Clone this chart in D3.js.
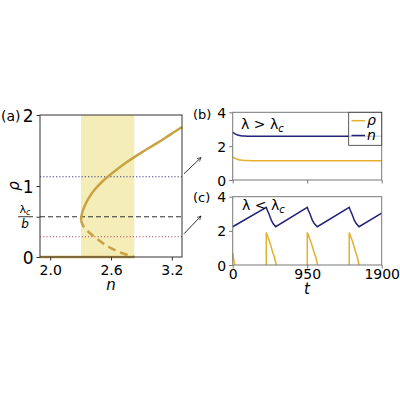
<!DOCTYPE html>
<meta charset="utf-8">
<head>
<style>
  body { margin: 0; background: #fff; }
  text { font-family: "DejaVu Sans", sans-serif; fill: #000; }
  .ax path, .ax line { stroke: #333; }
  .axg path, .axg line { stroke: #777; }
</style>
</head>
<body>
<svg width="400" height="400"></svg>
<script src="https://d3js.org/d3.v7.min.js"></script>
<script>
// panel (a): bifurcation diagram, rho vs n
var upperN = [2.304, 2.315, 2.34, 2.38, 2.44, 2.52, 2.62, 2.75, 2.90, 3.05, 3.18, 3.30];
var upperR = [0.52, 0.62, 0.72, 0.83, 0.95, 1.07, 1.19, 1.33, 1.47, 1.60, 1.72, 1.83];
var lowerN = [2.304, 2.33, 2.43, 2.574, 2.70, 2.83];
var lowerR = [0.52, 0.43, 0.29, 0.145, 0.06, 0.0];
var zeroN = [1.9, 2.83];
var shadeN = [2.304, 2.83];
var levelHigh = 1.13, levelCrit = 0.567, levelLow = 0.285;
var aTicksX = [2.0, 2.6, 3.2], aTickLabX = ["2.0", "2.6", "3.2"];
var aTicksY = [0, 1, 2];

// panel (b): lambda > lambda_c
var bT = [0, 25, 50, 75, 100, 150, 200, 250, 300, 1900];
var bN = [2.82, 2.74, 2.68, 2.64, 2.62, 2.595, 2.585, 2.58, 2.58, 2.58];
var bR = [1.36, 1.29, 1.24, 1.20, 1.18, 1.155, 1.145, 1.14, 1.14, 1.14];

// panel (c): lambda < lambda_c, relaxation oscillations
var cT = [0, 428, 440, 459, 475, 492, 515, 548, 951, 963, 982, 998, 1015, 1040, 1079,
          1486, 1498, 1517, 1533, 1550, 1575, 1611, 1900];
var cN = [2.24, 3.38, 3.22, 3.03, 2.84, 2.63, 2.43, 2.24, 3.38, 3.22, 3.03, 2.84, 2.63, 2.43, 2.24,
          3.38, 3.22, 3.03, 2.84, 2.63, 2.43, 2.24, 3.04];
var cRhoT = [[0, 25], [428, 428, 470, 512, 532, 555], [951, 951, 995, 1040, 1060, 1084], [1486, 1486, 1528, 1570, 1590, 1611]];
var cRhoV = [[0.68, 0], [0, 1.91, 1.38, 0.72, 0.45, 0], [0, 1.91, 1.38, 0.72, 0.45, 0], [0, 1.91, 1.38, 0.72, 0.45, 0]];
var tTicks = [0, 950, 1900];
var yTicksBC = [0, 2, 4];

var gold = "#c9a243", gold2 = "#e6b02e", navy = "#22227a";

var svg = d3.select("svg");

// ---------- (a)
var xa = d3.scaleLinear().domain([1.9, 3.3]).range([40, 182]);
var ya = d3.scaleLinear().domain([0, 2]).range([257, 115]);

var ga = svg.append("g");
ga.append("rect")
  .attr("x", xa(shadeN[0])).attr("width", xa(shadeN[1]) - xa(shadeN[0]))
  .attr("y", ya(2)).attr("height", ya(0) - ya(2))
  .attr("fill", "#f5edb8");

function hline(g, x, y, v, color, dash) {
  g.append("line")
    .attr("x1", x.range()[0]).attr("x2", x.range()[1])
    .attr("y1", y(v)).attr("y2", y(v))
    .attr("stroke", color).attr("stroke-width", 1.2)
    .attr("stroke-dasharray", dash);
}
hline(ga, xa, ya, levelHigh, "#3b3b92", "1.2,2");
hline(ga, xa, ya, levelLow, "#b8506a", "1.2,2");
hline(ga, xa, ya, levelCrit, "#333", "5,3");

var lineA = d3.line().x(function (d) { return xa(d[0]); }).y(function (d) { return ya(d[1]); }).curve(d3.curveCatmullRom);
ga.append("path").datum(d3.zip(upperN, upperR)).attr("d", lineA)
  .attr("fill", "none").attr("stroke", gold).attr("stroke-width", 2.5);
ga.append("path").datum(d3.zip(lowerN, lowerR)).attr("d", lineA)
  .attr("fill", "none").attr("stroke", gold).attr("stroke-width", 2.5).attr("stroke-dasharray", "8,5");
ga.append("path").datum(d3.zip(zeroN, [0, 0])).attr("d", d3.line().x(function (d) { return xa(d[0]); }).y(function (d) { return ya(d[1]); }))
  .attr("fill", "none").attr("stroke", gold).attr("stroke-width", 2.5);

ga.append("rect").attr("x", 40).attr("y", 115).attr("width", 142).attr("height", 142)
  .attr("fill", "none").attr("stroke", "#333").attr("stroke-width", 1);

ga.append("g").attr("class", "ax").attr("transform", "translate(0,257)")
  .call(d3.axisBottom(xa).tickValues(aTicksX).tickFormat(function (d, i) { return aTickLabX[i]; }).tickSize(3.5).tickSizeOuter(0))
  .call(function (g) { g.select(".domain").remove(); g.selectAll("text").attr("font-size", 14).attr("y", 18).attr("dy", null); });
ga.append("g").attr("class", "ax").attr("transform", "translate(40,0)")
  .call(d3.axisLeft(ya).tickValues(aTicksY.concat([levelCrit])).tickFormat(function (d) { return d === levelCrit ? "" : d; }).tickSize(3.5).tickSizeOuter(0))
  .call(function (g) { g.select(".domain").remove(); g.selectAll("text").attr("font-size", 17).attr("dy", "0.36em"); });

// lambda_c / b label
var fr = svg.append("g").attr("transform", "translate(25," + ya(levelCrit) + ")");
fr.append("text").attr("text-anchor", "middle").attr("y", -4).attr("font-size", 11)
  .html('λ<tspan font-size="8" font-style="italic" dy="2">c</tspan>');
fr.append("line").attr("x1", -7).attr("x2", 8).attr("y1", 0).attr("y2", 0).attr("stroke", "#000").attr("stroke-width", 0.8);
fr.append("text").attr("text-anchor", "middle").attr("y", 11).attr("font-size", 12).attr("font-style", "italic").text("b");

svg.append("text").attr("transform", "translate(19,186) rotate(-90)").attr("text-anchor", "middle")
  .attr("font-size", 15).attr("font-style", "italic").text("ρ");
svg.append("text").attr("x", 111).attr("y", 290).attr("text-anchor", "middle")
  .attr("font-size", 15).attr("font-style", "italic").text("n");
svg.append("text").attr("x", 1).attr("y", 121).attr("font-size", 14).text("(a)");

// ---------- (b) and (c)
var xt = d3.scaleLinear().domain([0, 1900]).range([232.7, 381.7]);
var yb = d3.scaleLinear().domain([0, 4]).range([180, 112.3]);
var yc = d3.scaleLinear().domain([0, 4]).range([265, 196.7]);

function frame(y) {
  var g = svg.append("g");
  g.append("rect").attr("x", xt.range()[0]).attr("y", y.range()[1])
    .attr("width", xt.range()[1] - xt.range()[0]).attr("height", y.range()[0] - y.range()[1])
    .attr("fill", "none").attr("stroke", "#777").attr("stroke-width", 1);
  return g;
}

var lineB = function (y) {
  return d3.line().x(function (d) { return xt(d[0]); }).y(function (d) { return y(d[1]); });
};

var gb = svg.append("g");
gb.append("path").datum(d3.zip(bT, bN)).attr("d", lineB(yb).curve(d3.curveMonotoneX))
  .attr("fill", "none").attr("stroke", navy).attr("stroke-width", 1.5);
gb.append("path").datum(d3.zip(bT, bR)).attr("d", lineB(yb).curve(d3.curveMonotoneX))
  .attr("fill", "none").attr("stroke", gold2).attr("stroke-width", 1.5);
frame(yb);
gb.append("g").attr("class", "axg").attr("transform", "translate(0,180)")
  .call(d3.axisBottom(xt).tickValues(tTicks).tickFormat("").tickSize(3.5).tickSizeOuter(0))
  .call(function (g) { g.select(".domain").remove(); });
gb.append("g").attr("class", "axg").attr("transform", "translate(232.7,0)")
  .call(d3.axisLeft(yb).tickValues(yTicksBC).tickFormat(d3.format("d")).tickSize(3.5).tickSizeOuter(0))
  .call(function (g) { g.select(".domain").remove(); g.selectAll("text").attr("font-size", 14).attr("dy", "0.36em"); });

// legend
var lg = svg.append("g");
lg.append("rect").attr("x", 348.7).attr("y", 112.3).attr("width", 33).attr("height", 33)
  .attr("fill", "#fff").attr("fill-opacity", 0.8).attr("stroke", "#333").attr("stroke-width", 0.8);
lg.append("line").attr("x1", 351.5).attr("x2", 365).attr("y1", 120.7).attr("y2", 120.7).attr("stroke", gold2).attr("stroke-width", 1.5);
lg.append("line").attr("x1", 351.5).attr("x2", 365).attr("y1", 135.5).attr("y2", 135.5).attr("stroke", navy).attr("stroke-width", 1.5);
lg.append("text").attr("x", 367).attr("y", 125).attr("font-size", 14).attr("font-style", "italic").text("ρ");
lg.append("text").attr("x", 367).attr("y", 140).attr("font-size", 14).attr("font-style", "italic").text("n");

svg.append("text").attr("x", 241).attr("y", 129).attr("font-size", 14)
  .html('λ &gt; λ<tspan font-size="10" font-style="italic" dy="3">c</tspan>');
svg.append("text").attr("x", 193).attr("y", 119).attr("font-size", 13).text("(b)");

var gc = svg.append("g");
gc.append("path").datum(d3.zip(cT, cN)).attr("d", lineB(yc))
  .attr("fill", "none").attr("stroke", navy).attr("stroke-width", 1.5);
cRhoT.forEach(function (ts, i) {
  gc.append("path").datum(d3.zip(ts, cRhoV[i])).attr("d", lineB(yc))
    .attr("fill", "none").attr("stroke", gold2).attr("stroke-width", 1.5);
});
frame(yc);
gc.append("g").attr("class", "axg").attr("transform", "translate(0,265)")
  .call(d3.axisBottom(xt).tickValues(tTicks).tickFormat(d3.format("d")).tickSize(3.5).tickSizeOuter(0))
  .call(function (g) { g.select(".domain").remove(); g.selectAll("text").attr("font-size", 14).attr("y", 14).attr("dy", null); });
gc.append("g").attr("class", "axg").attr("transform", "translate(232.7,0)")
  .call(d3.axisLeft(yc).tickValues(yTicksBC).tickFormat(d3.format("d")).tickSize(3.5).tickSizeOuter(0))
  .call(function (g) { g.select(".domain").remove(); g.selectAll("text").attr("font-size", 14).attr("dy", "0.36em"); });

svg.append("text").attr("x", 242).attr("y", 210).attr("font-size", 14)
  .html('λ &lt; λ<tspan font-size="10" font-style="italic" dy="3">c</tspan>');
svg.append("text").attr("x", 193).attr("y", 202).attr("font-size", 13).text("(c)");
svg.append("text").attr("x", 307).attr("y", 294).attr("text-anchor", "middle")
  .attr("font-size", 15).attr("font-style", "italic").text("t");

// arrows from (a) to (b) and (c)
svg.append("defs").append("marker").attr("id", "ah").attr("viewBox", "0 0 10 10")
  .attr("refX", 9).attr("refY", 5).attr("markerWidth", 6).attr("markerHeight", 6).attr("orient", "auto")
  .append("path").attr("d", "M1,1 L9,5 L1,9").attr("fill", "none").attr("stroke", "#000").attr("stroke-width", 1.2);
[[ya(levelHigh) - 3, 157.5], [ya(levelLow) - 3, 216]].forEach(function (p) {
  svg.append("line").attr("x1", 184).attr("y1", p[0]).attr("x2", 201).attr("y2", p[1])
    .attr("stroke", "#000").attr("stroke-width", 0.8).attr("marker-end", "url(#ah)");
});
</script>
</body>
